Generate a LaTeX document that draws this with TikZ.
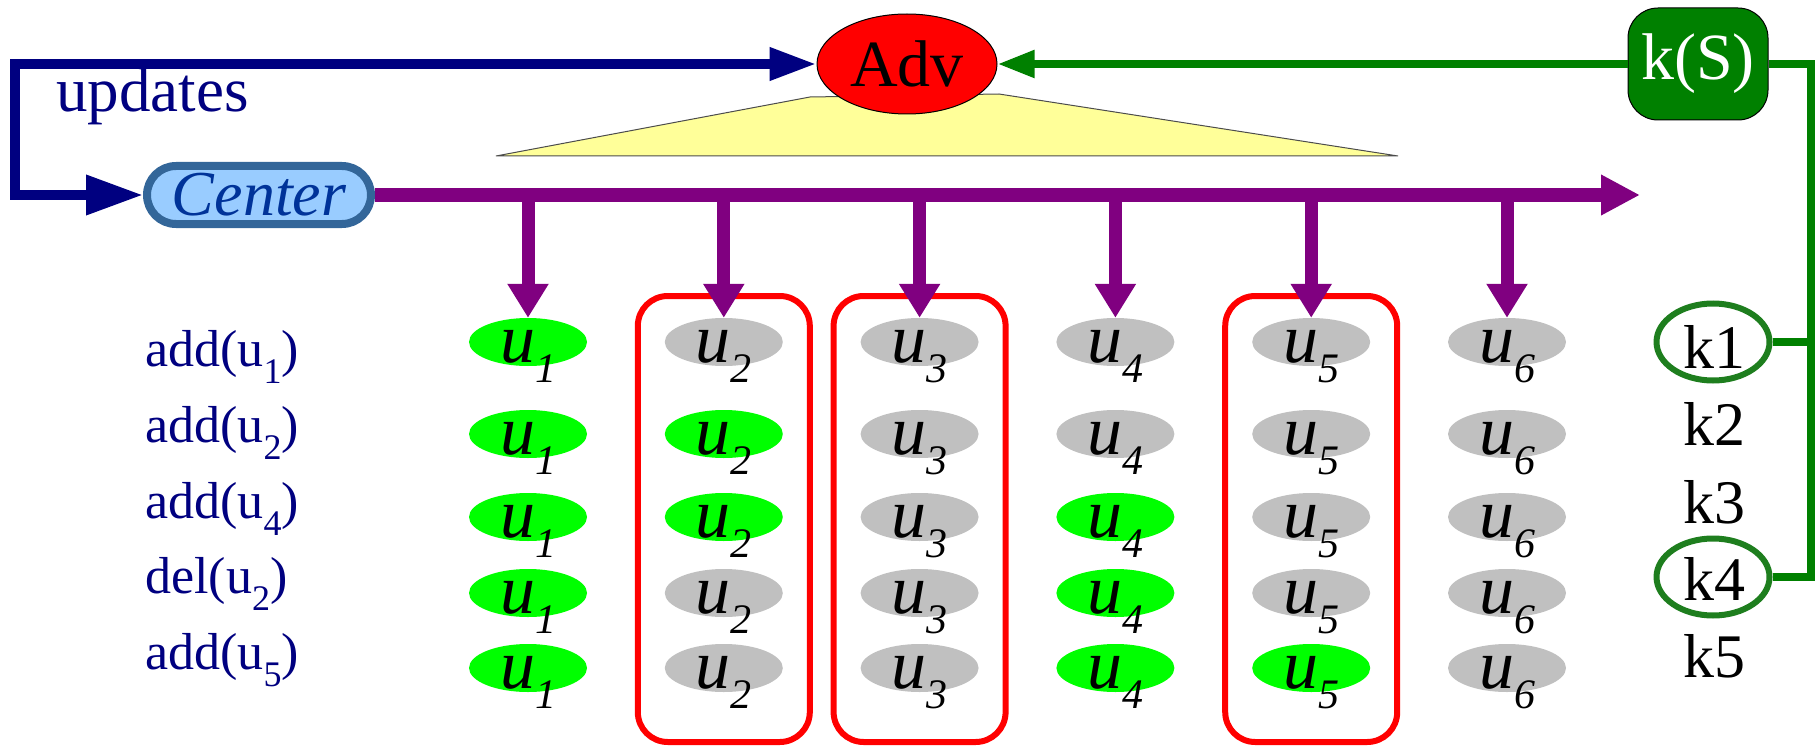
\documentclass[tikz,border=0pt]{standalone}
\usepackage{fontspec}
\setmainfont{Liberation Serif}
\usetikzlibrary{arrows.meta,shapes.geometric,calc}

\definecolor{navy}{HTML}{000080}
\definecolor{purp}{HTML}{800080}
\definecolor{dkgreen}{HTML}{008000}
\definecolor{ringgreen}{HTML}{1E7E1E}
\definecolor{lime}{HTML}{00FF00}
\definecolor{ltgray}{HTML}{C0C0C0}
\definecolor{skyfill}{HTML}{99CCFF}
\definecolor{skyedge}{HTML}{336699}
\definecolor{centertext}{HTML}{003399}
\definecolor{paleyellow}{HTML}{FFFF99}

% font size helper and lowered subscript helper
\newcommand\fsz[1]{\fontsize{#1}{#1}\selectfont}
\newcommand\lowsub[3]{\raisebox{-#1pt}{\fsz{#2}#3}}

\begin{document}
\begin{tikzpicture}[x=1pt,y=-1pt,line join=miter,
  uell/.style={ellipse,minimum width=118pt,minimum height=48pt,inner sep=0pt,draw=none},
  ulab/.style={anchor=base,inner sep=0pt,font=\fsz{70}\itshape},
  oplab/.style={anchor=base west,inner sep=0pt,text=navy,font=\fsz{52}},
  klab/.style={anchor=base,inner sep=0pt,font=\fsz{62}},
  kring/.style={ellipse,draw=ringgreen,line width=6pt,minimum width=113pt,minimum height=77pt,inner sep=0pt},
  colbox/.style={rectangle,draw=red,line width=6pt,rounded corners=30pt,minimum width=172pt,minimum height=446pt,inner sep=0pt},
  bus/.style={purp,line width=14pt},
  drop/.style={purp,line width=13pt,-{Triangle[length=34pt,width=39pt]}},
  upd/.style={navy,line width=10pt},
  fb/.style={dkgreen,line width=8pt},
]
\useasboundingbox (0,0) rectangle (1817,746);

% adversary's view cone
\filldraw[fill=paleyellow,draw=black!70,line width=1pt]
  (496,156) -- (810,97) -- (999,94) -- (1398,156) -- cycle;

% top nodes
\node[ellipse,fill=red,draw=black,line width=1pt,minimum width=180pt,minimum height=100pt,
      inner sep=0pt,font=\fsz{66}] (adv) at (907,64) {Adv};
\node[rectangle,rounded corners=30pt,fill=dkgreen,draw=black,line width=1pt,
      minimum width=140pt,minimum height=112pt,inner sep=0pt,text=white,font=\fsz{66}] (ks) at (1698,64) {k(S)};
\node[rectangle,rounded corners=29pt,fill=skyfill,draw=skyedge,line width=8pt,
      minimum width=224pt,minimum height=58pt,inner sep=0pt,text=centertext,font=\fsz{64}\itshape] (center) at (259,195) {Center};

\node[anchor=base west,inner sep=0pt,text=navy,font=\fsz{63}] (updlabel) at (56,112) {updates};

% update channel
\coordinate (ucorner) at (15,64);
\draw[upd,{Triangle[length=57pt,width=38pt]}-{Triangle[length=47pt,width=31pt]}]
  (center.west) -| (ucorner) -- (adv.west);

% column boxes
\foreach \c in {2,3,5}{
  \node[colbox] (box\c) at ({528+195.8*(\c-1)},519) {};
}

% replica states, one row per update
\foreach \r/\y/\cols in {
  1/342/{lime,ltgray,ltgray,ltgray,ltgray,ltgray},
  2/434/{lime,lime,ltgray,ltgray,ltgray,ltgray},
  3/517/{lime,lime,ltgray,lime,ltgray,ltgray},
  4/593/{lime,ltgray,ltgray,lime,ltgray,ltgray},
  5/668/{lime,ltgray,ltgray,lime,lime,ltgray}}{
  \foreach \f [count=\c] in \cols {
    \node[uell,fill=\f] (e-\r-\c) at ({528+195.8*(\c-1)},\y) {};
    \node[ulab] (t-\r-\c) at ([yshift=-20pt]e-\r-\c.center) {u\lowsub{20}{42}{\c}};
  }
}

% broadcast bus
\coordinate (busend) at (1640,195);
\draw[bus,-{Triangle[length=39pt,width=38pt]}] (center.east) -- (busend);
\foreach \c in {1,...,6}{
  \coordinate (tap\c) at ({528+195.8*(\c-1)},195);
  \draw[drop] (tap\c) -- (e-1-\c.north);
}

% update labels
\node[oplab] (op1) at (145,366) {add(u\lowsub{17}{36}{1})};
\node[oplab] (op2) at (145,442) {add(u\lowsub{17}{36}{2})};
\node[oplab] (op3) at (145,518) {add(u\lowsub{17}{36}{4})};
\node[oplab] (op4) at (145,593) {del(u\lowsub{17}{36}{2})};
\node[oplab] (op5) at (145,669) {add(u\lowsub{17}{36}{5})};

% keys
\node[klab] (k1) at (1714,368) {k1};
\node[klab] (k2) at (1714,445) {k2};
\node[klab] (k3) at (1714,523) {k3};
\node[klab] (k4) at (1714,600) {k4};
\node[klab] (k5) at (1714,677) {k5};
\node[kring] (ring1) at (1713,342) {};
\node[kring] (ring4) at (1713,577) {};

% key feedback to the adversary
\coordinate (rail) at (1811,64);
\draw[fb] (ring4.east) -| (rail) -- (ks.east);
\draw[fb] (ring1.east) -- (ring1.east -| rail);
\draw[fb,-{Triangle[length=37pt,width=26pt]}] (ks.west) -- (adv.east);
\end{tikzpicture}
\end{document}
